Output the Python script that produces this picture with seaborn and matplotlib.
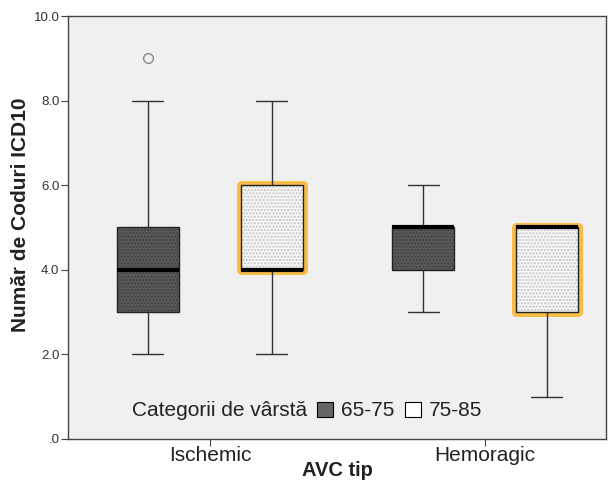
import matplotlib
matplotlib.use("Agg")
import pandas as pd
import seaborn as sns
import matplotlib.pyplot as plt
import matplotlib.patheffects as pe
from matplotlib.patches import Patch
from matplotlib.colors import to_rgba

# date
tip_avc = ['Ischemic', 'Hemoragic']
categorii = ['65-75', '75-85']
isch_65_75 = [2, 3, 3, 3, 4, 4, 4, 5, 5, 5, 8, 9]
isch_75_85 = [2, 4, 4, 4, 4, 4, 6, 6, 6, 8]
hem_65_75 = [3, 4, 4, 5, 5, 5, 5, 6]
hem_75_85 = [1, 3, 3, 5, 5, 5, 5]
y_ticks = [0, 2, 4, 6, 8, 10]
y_tick_labels = ['.0', '2.0', '4.0', '6.0', '8.0', '10.0']

rows = []
for tip, cat, vals in [('Ischemic', '65-75', isch_65_75), ('Ischemic', '75-85', isch_75_85),
                       ('Hemoragic', '65-75', hem_65_75), ('Hemoragic', '75-85', hem_75_85)]:
    rows += [{'AVC tip': tip, 'Categorii de vârstă': cat, 'Număr de Coduri ICD10': v} for v in vals]
df = pd.DataFrame(rows)

sns.set_style("white")
plt.rcParams['font.family'] = ['Liberation Sans', 'DejaVu Sans']
plt.rcParams['hatch.linewidth'] = 1.0

fig = plt.figure(figsize=(6.11, 4.86), dpi=100)
ax = fig.add_axes([0.111, 0.097, 0.881, 0.870])
ax.set_facecolor('#f0f0f0')

culori = {'65-75': '#595959', '75-85': '#f6f6f6'}
sns.boxplot(data=df, x='AVC tip', y='Număr de Coduri ICD10', hue='Categorii de vârstă',
            order=tip_avc, hue_order=categorii, palette=culori, saturation=1,
            width=0.9, gap=0.5, linecolor='#222222', linewidth=1, legend=False, ax=ax,
            medianprops=dict(color='black', linewidth=3),
            whiskerprops=dict(color='#333333', linewidth=1),
            capprops=dict(color='#333333', linewidth=1),
            flierprops=dict(marker='o', markerfacecolor='none', markeredgecolor='#8a8a8a',
                            markersize=7, markeredgewidth=1))

# hasura si conturul portocaliu
for box in ax.patches:
    fc = box.get_facecolor()
    box.set_edgecolor('#222222')
    if fc[0] > 0.5:
        box.set_hatch('.....')
        box._hatch_color = to_rgba('#c4c4c4')
        box.set_path_effects([pe.withStroke(linewidth=6.5, foreground='#f7bd48', joinstyle='round')])
    else:
        box.set_hatch('.....')
        box._hatch_color = to_rgba('#424242')

ax.set_ylim(0, 10)
ax.set_xlim(-0.516, 1.44)
ax.set_yticks(y_ticks)
ax.set_yticklabels(y_tick_labels)
ax.tick_params(axis='y', labelsize=9.5, length=5, direction='out', left=True, color='#444444', labelcolor='#333333', pad=1)
ax.tick_params(axis='x', labelsize=15, length=5, direction='out', bottom=True, color='#444444', labelcolor='#222222', pad=0)
for s in ax.spines.values():
    s.set_color('#444444')
    s.set_linewidth(1)

ax.set_xlabel('AVC tip', fontsize=14.5, fontweight='bold', color='#222222', labelpad=-3)
ax.set_ylabel('Număr de Coduri ICD10', fontsize=15, fontweight='bold', color='#222222')
ax.yaxis.set_label_coords(-0.07, 0.53)

# legenda pe un singur rand
handles = [Patch(facecolor='none', edgecolor='none'),
           Patch(facecolor='#666666', edgecolor='black', linewidth=0.8),
           Patch(facecolor='white', edgecolor='black', linewidth=0.8)]
labels = ['Categorii de vârstă', '65-75', '75-85']
leg = ax.legend(handles, labels, ncol=3, frameon=False, loc='center left',
                bbox_to_anchor=(0.074, 0.066), fontsize=15, handlelength=0.75, handleheight=0.75,
                handletextpad=0.4, columnspacing=0.5, borderpad=0, borderaxespad=0)
for t in leg.get_texts():
    t.set_color('#222222')

fig.savefig('out.png', dpi=100)
